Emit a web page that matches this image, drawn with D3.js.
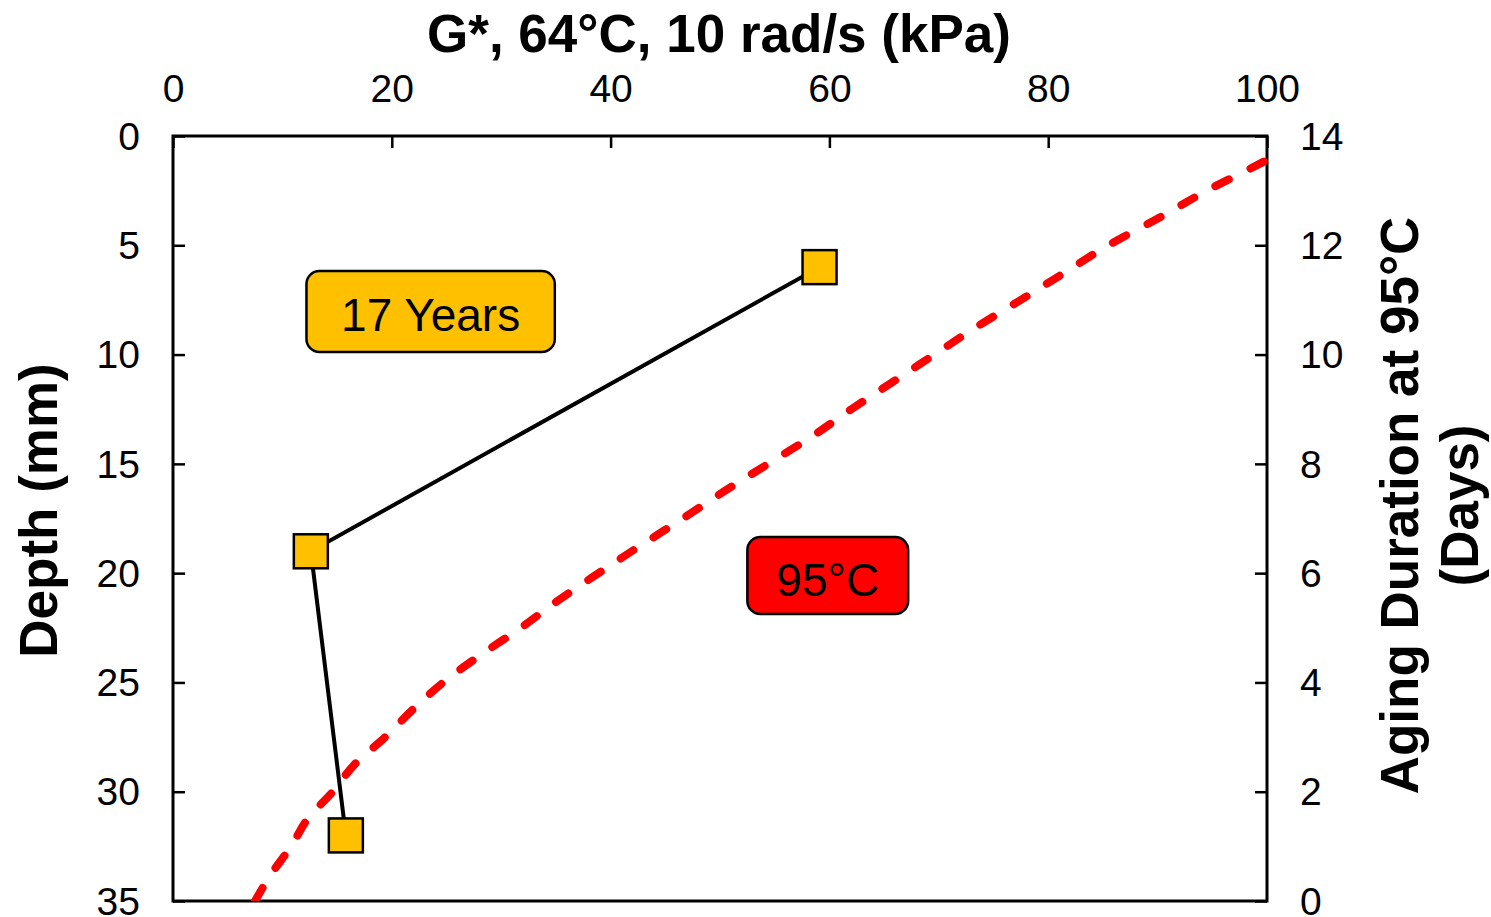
<!DOCTYPE html>
<html>
<head>
<meta charset="utf-8">
<script src="https://cdn.jsdelivr.net/npm/d3@7"></script>
<style>
  html, body { margin: 0; padding: 0; background: #fff; }
  svg { display: block; font-family: Arial, "Liberation Sans", sans-serif; }
</style>
</head>
<body>
<svg id="chart" width="1491" height="917"></svg>
<script>
// Field cores: complex modulus by depth
const depthMm = [6, 19, 32];
const gStarKpa = [59.1, 12.6, 15.8];

// Laboratory aging at 95°C: modulus reached after a given duration
const agingDays = [0, 0.5, 1, 1.5, 2, 2.5, 3, 3.5, 4, 4.5, 5, 5.5, 6, 6.5, 7,
                   7.5, 8, 8.5, 9, 9.5, 10, 10.5, 11, 11.5, 12, 12.5, 13, 13.5, 14];
const agingGStar = [7.5, 9.0, 10.8, 12.3, 14.6, 16.6, 19.4, 21.9, 24.7, 28.1, 31.8, 35.2, 38.9, 42.7, 46.6,
                    50.4, 54.4, 58.4, 62.0, 65.8, 69.6, 73.4, 77.5, 81.5, 85.5, 90.1, 94.5, 99.4, 104];

const gTicks = [0, 20, 40, 60, 80, 100];
const depthTicks = [0, 5, 10, 15, 20, 25, 30, 35];
const dayTicks = [0, 2, 4, 6, 8, 10, 12, 14];

const svg = d3.select("#chart");
const m = { left: 173, right: 1267, top: 136, bottom: 901 };

const x = d3.scaleLinear().domain([0, 100]).range([m.left, m.right]);
const yDepth = d3.scaleLinear().domain([0, 35]).range([m.top, m.bottom]);
const yDays = d3.scaleLinear().domain([0, 14]).range([m.bottom, m.top]);

svg.append("defs").append("clipPath").attr("id", "plot-clip")
  .append("rect")
  .attr("x", m.left).attr("y", m.top)
  .attr("width", m.right - m.left).attr("height", m.bottom - m.top);

const tickFont = 39;

// Top axis (G*)
const topAxis = svg.append("g")
  .attr("transform", `translate(0,${m.top})`)
  .call(d3.axisTop(x).tickValues(gTicks).tickSizeInner(-12).tickSizeOuter(0).tickPadding(34));
// Left axis (depth)
const leftAxis = svg.append("g")
  .attr("transform", `translate(${m.left},0)`)
  .call(d3.axisLeft(yDepth).tickValues(depthTicks).tickSizeInner(-12).tickSizeOuter(0).tickPadding(33));
// Right axis (aging duration)
const rightAxis = svg.append("g")
  .attr("transform", `translate(${m.right},0)`)
  .call(d3.axisRight(yDays).tickValues(dayTicks).tickSizeInner(-12).tickSizeOuter(0).tickPadding(33));

[topAxis, leftAxis, rightAxis].forEach(g => {
  g.select(".domain").remove();
  g.selectAll(".tick line").attr("stroke", "#000").attr("stroke-width", 2.5);
  g.selectAll(".tick text").attr("font-size", tickFont).attr("fill", "#000")
    .attr("font-family", "Arial, 'Liberation Sans', sans-serif");
});
leftAxis.selectAll(".tick text").attr("dy", "0.34em");
rightAxis.selectAll(".tick text").attr("dy", "0.34em");

// Plot frame
svg.append("rect")
  .attr("x", m.left).attr("y", m.top)
  .attr("width", m.right - m.left).attr("height", m.bottom - m.top)
  .attr("fill", "none").attr("stroke", "#000").attr("stroke-width", 3);

// Aging curve (dashed red)
const agingLine = d3.line()
  .x((d, i) => x(agingGStar[i]))
  .y(d => yDays(d))
  .curve(d3.curveMonotoneY);
svg.append("path")
  .attr("clip-path", "url(#plot-clip)")
  .attr("d", agingLine(agingDays))
  .attr("fill", "none")
  .attr("stroke", "#ff0000")
  .attr("stroke-width", 8)
  .attr("stroke-linecap", "round")
  .attr("stroke-dasharray", "15 24");

// Field profile line and markers
const fieldLine = d3.line()
  .x((d, i) => x(gStarKpa[i]))
  .y(d => yDepth(d));
svg.append("path")
  .attr("d", fieldLine(depthMm))
  .attr("fill", "none")
  .attr("stroke", "#000")
  .attr("stroke-width", 4);

const sq = 34;
svg.selectAll("rect.marker")
  .data(depthMm)
  .join("rect")
  .attr("class", "marker")
  .attr("x", (d, i) => x(gStarKpa[i]) - sq / 2)
  .attr("y", d => yDepth(d) - sq / 2)
  .attr("width", sq).attr("height", sq)
  .attr("fill", "#ffc000")
  .attr("stroke", "#000")
  .attr("stroke-width", 2.5);

// Annotation boxes
function labelBox(x0, x1, y0, y1, fill, text, baseline) {
  svg.append("rect")
    .attr("x", x0).attr("y", y0)
    .attr("width", x1 - x0).attr("height", y1 - y0)
    .attr("rx", 13).attr("ry", 13)
    .attr("fill", fill).attr("stroke", "#000").attr("stroke-width", 2.5);
  svg.append("text")
    .attr("x", (x0 + x1) / 2).attr("y", baseline)
    .attr("text-anchor", "middle")
    .attr("font-size", 46)
    .attr("fill", "#000")
    .text(text);
}
labelBox(x(12.2), x(34.9), yDepth(6.18), yDepth(9.88), "#ffc000", "17 Years", 331);
labelBox(x(52.5), x(67.2), yDepth(18.35), yDepth(21.87), "#ff0000", "95°C", 596);

// Axis titles
svg.append("text")
  .attr("x", 719).attr("y", 52)
  .attr("text-anchor", "middle")
  .attr("font-size", 53).attr("font-weight", "bold")
  .text("G*, 64°C, 10 rad/s (kPa)");

svg.append("text")
  .attr("transform", `translate(57,${(m.top + m.bottom) / 2 - 8}) rotate(-90)`)
  .attr("text-anchor", "middle")
  .attr("font-size", 53).attr("font-weight", "bold")
  .text("Depth (mm)");

const rightTitle = svg.append("text")
  .attr("transform", `translate(1418,${(m.top + m.bottom) / 2 - 13}) rotate(-90)`)
  .attr("text-anchor", "middle")
  .attr("font-size", 53).attr("font-weight", "bold");
rightTitle.append("tspan").attr("x", 0).attr("y", 0).text("Aging Duration at 95°C");
rightTitle.append("tspan").attr("x", 0).attr("y", 60).text("(Days)");
</script>
</body>
</html>
